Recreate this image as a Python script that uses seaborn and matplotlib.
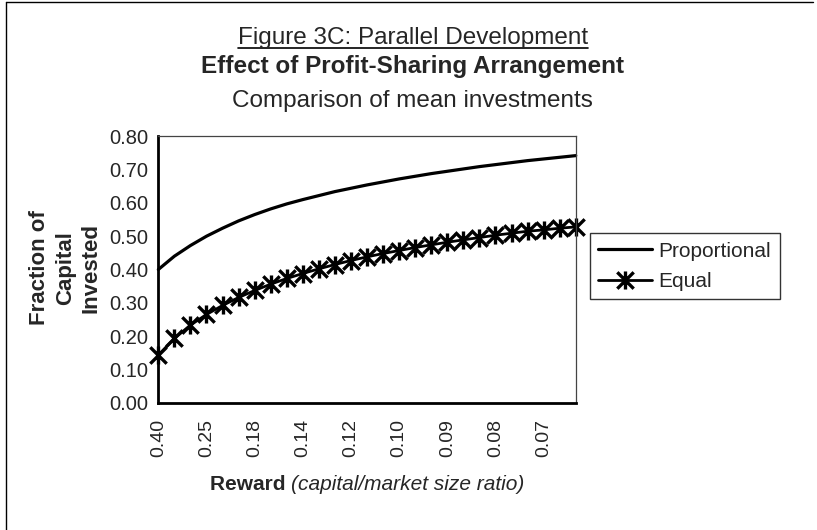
import numpy as np
import pandas as pd
import matplotlib
matplotlib.use("Agg")
import matplotlib.pyplot as plt
import seaborn as sns
from matplotlib.path import Path
from matplotlib.lines import Line2D

# reward (capital/market size ratio), one entry per category on the x axis
reward = ['0.40', '0.33', '0.29', '0.25', '0.22', '0.20', '0.18', '0.17', '0.15',
          '0.14', '0.13', '0.13', '0.12', '0.11', '0.11', '0.10', '0.10', '0.09',
          '0.09', '0.08', '0.08', '0.08', '0.07', '0.07', '0.07', '0.07', '0.06']

proportional = [0.400, 0.440, 0.472, 0.500, 0.524, 0.546, 0.565, 0.582, 0.597,
                0.610, 0.622, 0.634, 0.644, 0.654, 0.663, 0.672, 0.680, 0.688,
                0.695, 0.702, 0.709, 0.715, 0.721, 0.727, 0.732, 0.737, 0.742]

equal = [0.143, 0.193, 0.233, 0.265, 0.292, 0.316, 0.337, 0.356, 0.373,
         0.388, 0.402, 0.415, 0.427, 0.438, 0.448, 0.457, 0.466, 0.474,
         0.482, 0.489, 0.496, 0.503, 0.509, 0.515, 0.519, 0.524, 0.528]

yticks = [0.0, 0.1, 0.2, 0.3, 0.4, 0.5, 0.6, 0.7, 0.8]

df = pd.DataFrame({'pos': np.arange(len(reward)), 'Reward': reward,
                   'Proportional': proportional, 'Equal': equal})

sns.set_style('white')
plt.rcParams['font.family'] = ['Liberation Sans', 'DejaVu Sans']

# Excel "star" marker: an X with a vertical bar through it
star = Path([(-1, -1), (1, 1), (-1, 1), (1, -1), (0, -1.1), (0, 1.1)],
            [Path.MOVETO, Path.LINETO, Path.MOVETO, Path.LINETO, Path.MOVETO, Path.LINETO])

fig = plt.figure(figsize=(8.17, 5.30), dpi=100)
ax = fig.add_axes([0.1938, 0.2402, 0.5109, 0.5026])

sns.lineplot(data=df, x='pos', y='Proportional', ax=ax, color='black',
             linewidth=2.3, label='Proportional', legend=False, clip_on=False)
sns.lineplot(data=df, x='pos', y='Equal', ax=ax, color='black', linewidth=2.0,
             marker=star, markersize=13, markeredgewidth=2.4,
             markerfacecolor='none', markeredgecolor='black',
             label='Equal', legend=False, clip_on=False)

ax.set_xlim(0, len(reward) - 1)
ax.set_ylim(0, 0.8)
ax.set_yticks(yticks)
ax.set_yticklabels([f'{v:.2f}' for v in yticks], fontsize=14.5)
ax.set_xticks(df['pos'])
ax.set_xticklabels([r if i % 3 == 0 else '' for i, r in enumerate(reward)],
                   rotation=90, fontsize=14)
ax.tick_params(axis='both', direction='inout', length=9, width=1.3, color='black')
ax.tick_params(axis='x', pad=7)
ax.tick_params(axis='y', pad=3)
ax.set_xlabel('')
ax.set_ylabel('')

for side in ['left', 'bottom']:
    ax.spines[side].set_linewidth(2)
    ax.spines[side].set_color('black')
for side in ['top', 'right']:
    ax.spines[side].set_linewidth(0.9)
    ax.spines[side].set_color('#444444')

leg = ax.legend(loc='upper left', bbox_to_anchor=(0.722, 0.5600),
                bbox_transform=fig.transFigure, borderaxespad=0, frameon=True,
                fancybox=False, edgecolor='black', fontsize=15,
                handlelength=2.6, handletextpad=0.3, borderpad=0.4,
                labelspacing=0.55)
leg.get_frame().set_linewidth(1.0)

# titles
tx = 0.505
t1 = fig.text(tx, 0.9170, 'Figure 3C: Parallel Development', ha='center',
              va='baseline', fontsize=17.5)
fig.text(tx, 0.8620, 'Effect of Profit-Sharing Arrangement', ha='center',
         va='baseline', fontsize=17.5, fontweight='bold')
fig.text(tx, 0.7975, 'Comparison of mean investments', ha='center',
         va='baseline', fontsize=17.5)

fig.text(0.0800, 0.4943, 'Fraction of\nCapital\nInvested', rotation=90,
         ha='center', va='center', multialignment='center', fontsize=16,
         fontweight='bold', linespacing=1.3)

renderer = fig.canvas.get_renderer()

# underline first title line
bb = t1.get_window_extent(renderer).transformed(fig.transFigure.inverted())
fig.add_artist(Line2D([bb.x0, bb.x1], [0.9095, 0.9095], color='black',
                      linewidth=1.2, transform=fig.transFigure))

# x axis title: bold part + italic part, centred under the plot
xa = fig.text(0, 0.0755, 'Reward ', fontsize=15, fontweight='bold', va='baseline')
xb = fig.text(0, 0.0755, '(capital/market size ratio)', fontsize=15,
              style='italic', va='baseline')
wa = xa.get_window_extent(renderer).width / fig.bbox.width
wb = xb.get_window_extent(renderer).width / fig.bbox.width
cx = 0.1938 + 0.5109 / 2
xa.set_x(cx - (wa + wb) / 2)
xb.set_x(cx - (wa + wb) / 2 + wa)

# chart area border (left and top visible in the scan)
fig.add_artist(Line2D([0.0075, 0.0075], [0.0, 0.996], color='black',
                      linewidth=1.0, transform=fig.transFigure))
fig.add_artist(Line2D([0.0075, 0.995], [0.996, 0.996], color='black',
                      linewidth=1.0, transform=fig.transFigure))

fig.savefig('out.png', dpi=100)
